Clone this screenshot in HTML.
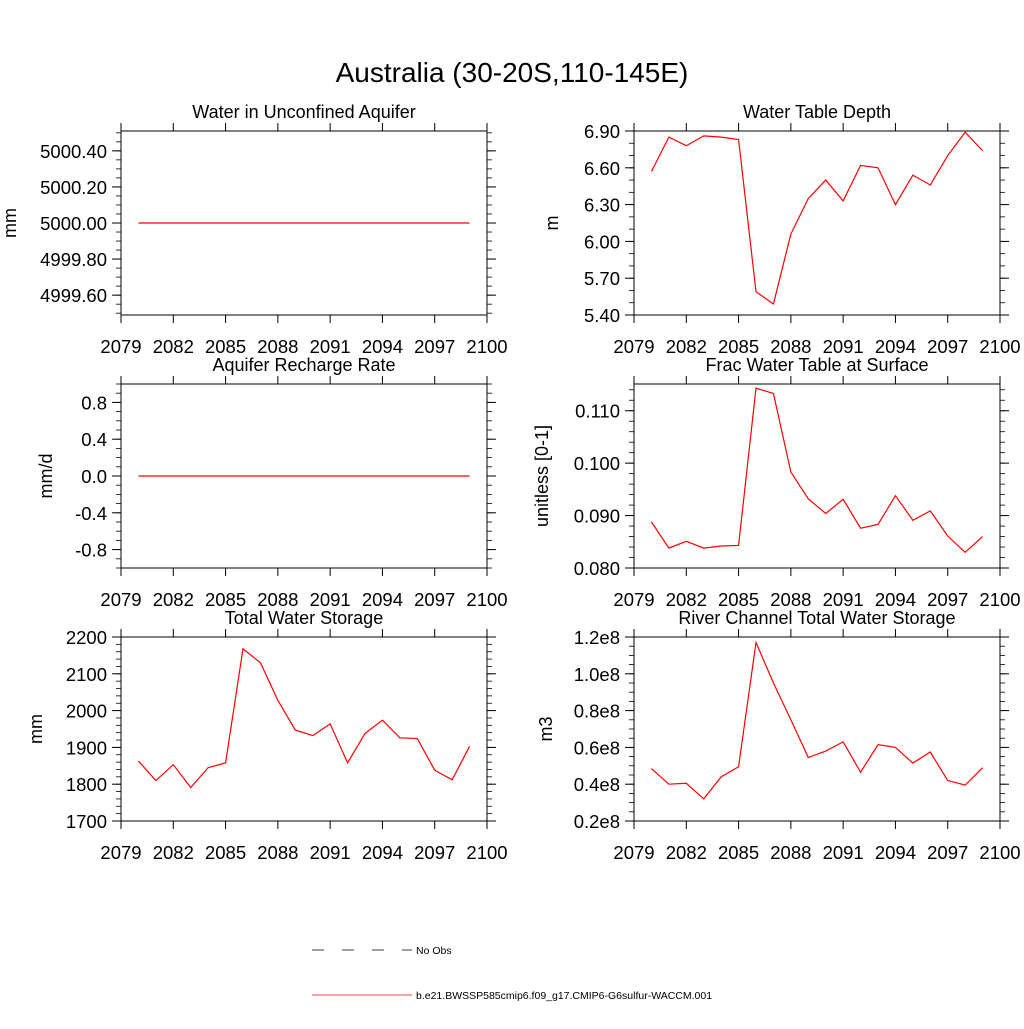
<!DOCTYPE html>
<html><head><meta charset="utf-8"><style>
body{margin:0;background:#fff;width:1024px;height:1024px;overflow:hidden}
svg text{font-family:"Liberation Sans",sans-serif;fill:#000}
</style></head><body>
<svg id="chart" width="1024" height="1024" viewBox="0 0 1024 1024" xmlns="http://www.w3.org/2000/svg">
<rect width="1024" height="1024" fill="#fff"/>
<text x="512" y="82" font-size="28" text-anchor="middle">Australia (30-20S,110-145E)</text>
<g id="panels"></g>
<g>
<line x1="312" y1="950" x2="412" y2="950" stroke="#000" stroke-width="0.8" stroke-dasharray="12,18"/>
<text x="416" y="954" font-size="10.5">No Obs</text>
<line x1="312" y1="995" x2="412" y2="995" stroke="#f00" stroke-width="0.8"/>
<text x="416" y="999" font-size="10.5">b.e21.BWSSP585cmip6.f09_g17.CMIP6-G6sulfur-WACCM.001</text>
</g>
</svg>
<script>
const years=[2080,2081,2082,2083,2084,2085,2086,2087,2088,2089,2090,2091,2092,2093,2094,2095,2096,2097,2098,2099];
const xTicks=[2079,2082,2085,2088,2091,2094,2097,2100];
const aquiferWater=[5000,5000,5000,5000,5000,5000,5000,5000,5000,5000,5000,5000,5000,5000,5000,5000,5000,5000,5000,5000];
const waterTableDepth=[6.57,6.85,6.78,6.86,6.85,6.83,5.59,5.49,6.06,6.35,6.50,6.33,6.62,6.60,6.30,6.54,6.46,6.70,6.89,6.74];
const rechargeRate=[0,0,0,0,0,0,0,0,0,0,0,0,0,0,0,0,0,0,0,0];
const fracWaterTable=[0.0888,0.0838,0.0851,0.0838,0.0842,0.0843,0.1143,0.1133,0.0983,0.0932,0.0904,0.0931,0.0876,0.0883,0.0938,0.0891,0.0909,0.0861,0.0830,0.0860];
const totalWaterStorage=[1863,1810,1853,1791,1845,1858,2168,2130,2028,1947,1932,1964,1858,1938,1974,1926,1924,1838,1812,1903];
const riverStorage=[0.485,0.40,0.405,0.32,0.44,0.495,1.17,0.95,0.75,0.545,0.58,0.63,0.465,0.615,0.60,0.515,0.575,0.42,0.395,0.49];
const ticks1=[4999.6,4999.8,5000.0,5000.2,5000.4];
const ticks2=[5.4,5.7,6.0,6.3,6.6,6.9];
const ticks3=[-0.8,-0.4,0.0,0.4,0.8];
const ticks4=[0.080,0.090,0.100,0.110];
const ticks5=[1700,1800,1900,2000,2100,2200];
const ticks6=[0.2,0.4,0.6,0.8,1.0,1.2];

const NS='http://www.w3.org/2000/svg';
const root=document.getElementById('panels');
function mk(tag,attrs,parent){const e=document.createElementNS(NS,tag);for(const k in attrs)e.setAttribute(k,attrs[k]);parent.appendChild(e);return e;}

function panel(o){
  const g=mk('g',{},root);
  
  
  const L=o.x0,R=o.x0+366,T=o.y0,B=o.y0+184;
  const xs=v=>L+(v-2079)/21*(R-L);
  const ys=v=>B-(v-o.ymin)/(o.ymax-o.ymin)*(B-T);
  const t=mk('text',{x:(L+R)/2,y:T-13,'font-size':18,'text-anchor':'middle'},g);
  t.textContent=o.title;
  
  
  const fr=mk('rect',{x:L,y:T,width:R-L,height:B-T,fill:'none',stroke:'#000','stroke-width':1},g);
  
  
  xTicks.forEach(v=>{
    const x=xs(v);
    mk('line',{x1:x,y1:B,x2:x,y2:B+8,stroke:'#000'},g);
    mk('line',{x1:x,y1:T,x2:x,y2:T-8,stroke:'#000'},g);
    const tl=mk('text',{x:x,y:B+38,'font-size':18.5,'text-anchor':'middle'},g);
    tl.textContent=v;
    
    
  });
  const tk=o.ticks, step=tk[1]-tk[0], minor=step/o.minorN;
  for(let v=tk[0]-step*3;v<=tk[tk.length-1]+step*3+1e-9;v+=minor){
    if(v<o.ymin-1e-9||v>o.ymax+1e-9)continue;
    const y=ys(v);
    mk('line',{x1:L,y1:y,x2:L-5,y2:y,stroke:'#000','stroke-width':0.8},g);
    mk('line',{x1:R,y1:y,x2:R+5,y2:y,stroke:'#000','stroke-width':0.8},g);
  }
  tk.forEach(v=>{
    const y=ys(v);
    mk('line',{x1:L,y1:y,x2:L-9,y2:y,stroke:'#000'},g);
    mk('line',{x1:R,y1:y,x2:R+9,y2:y,stroke:'#000'},g);
    const tl=mk('text',{x:L-14,y:y+7,'font-size':18.5,'text-anchor':'end'},g);
    tl.textContent=o.fmt(v);
    
    
  });
  const yl=mk('text',{x:0,y:0,'font-size':18,'text-anchor':'middle',transform:`translate(${o.ylx},${(T+B)/2}) rotate(-90)`},g);
  yl.textContent=o.ylabel;
  
  
  const p=mk('polyline',{points:years.map((yr,i)=>xs(yr)+','+ys(o.data[i])).join(' '),fill:'none',stroke:'#f00','stroke-width':1.2},g);
  
  
}
panel({name:'panel-aquifer-water',title:'Water in Unconfined Aquifer',x0:121,y0:131,ymin:4999.49,ymax:5000.51,ticks:ticks1,minorN:4,fmt:v=>v.toFixed(2),ylabel:'mm',ylx:16,data:aquiferWater});
panel({name:'panel-water-table-depth',title:'Water Table Depth',x0:634,y0:131,ymin:5.4,ymax:6.9,ticks:ticks2,minorN:3,fmt:v=>v.toFixed(2),ylabel:'m',ylx:558,data:waterTableDepth});
panel({name:'panel-recharge-rate',title:'Aquifer Recharge Rate',x0:121,y0:384,ymin:-1,ymax:1,ticks:ticks3,minorN:4,fmt:v=>v.toFixed(1),ylabel:'mm/d',ylx:52,data:rechargeRate});
panel({name:'panel-frac-water-table',title:'Frac Water Table at Surface',x0:634,y0:384,ymin:0.080,ymax:0.1151,ticks:ticks4,minorN:5,fmt:v=>v.toFixed(3),ylabel:'unitless [0-1]',ylx:548,data:fracWaterTable});
panel({name:'panel-total-water-storage',title:'Total Water Storage',x0:121,y0:637,ymin:1700,ymax:2200,ticks:ticks5,minorN:5,fmt:v=>v.toFixed(0),ylabel:'mm',ylx:42,data:totalWaterStorage});
panel({name:'panel-river-storage',title:'River Channel Total Water Storage',x0:634,y0:637,ymin:0.2,ymax:1.2,ticks:ticks6,minorN:4,fmt:v=>v.toFixed(1)+'e8',ylabel:'m3',ylx:552,data:riverStorage});
</script>
</body></html>
